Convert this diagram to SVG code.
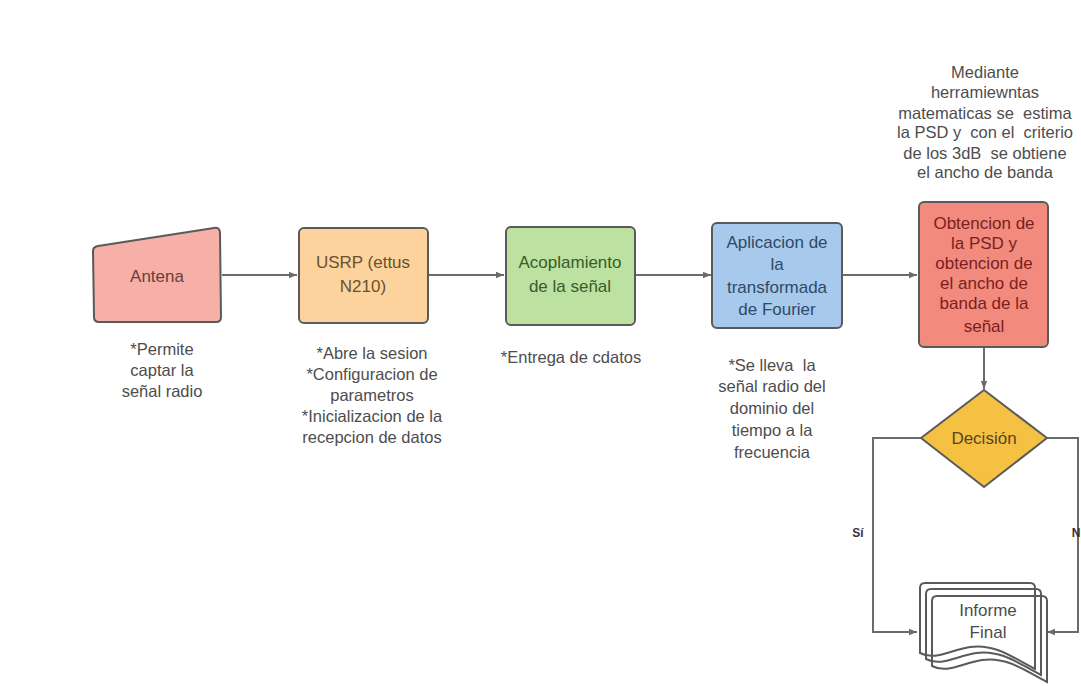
<svg xmlns="http://www.w3.org/2000/svg" width="1081" height="686" viewBox="0 0 1081 686">
<style>
.nt{font-family:"Liberation Sans",Arial,sans-serif;font-size:17px;text-anchor:middle}
.note{font-family:"Liberation Sans",Arial,sans-serif;font-size:16.5px;text-anchor:middle;fill:#4d4d4d;white-space:pre}
.box{stroke:#5a5a5a;stroke-width:2}
.con{fill:none;stroke:#6b6b6b;stroke-width:2}
.lbl{font-family:"Liberation Sans",Arial,sans-serif;font-size:12px;font-weight:bold;fill:#333;text-anchor:middle}
.doc{fill:none;stroke:#5a5a5a;stroke-width:2}
</style>
<defs>
<marker id="ah" viewBox="0 0 10 10" refX="10" refY="5" markerWidth="9" markerHeight="8" markerUnits="userSpaceOnUse" orient="auto"><path d="M0,1 L10,5 L0,9 z" fill="#6b6b6b"/></marker>
<path id="docshape" d="M5,0 H110 Q115,0 115,5 V86 C95,76 75,60 50,64 C30,67 15,78 0,70 V5 Q0,0 5,0 Z"/>
</defs>
<rect width="1081" height="686" fill="#ffffff"/>
<g id="connectors">
<path class="con" d="M222,275 H297" marker-end="url(#ah)"/>
<path class="con" d="M428,275 H504" marker-end="url(#ah)"/>
<path class="con" d="M635,275 H711" marker-end="url(#ah)"/>
<path class="con" d="M842,275 H917" marker-end="url(#ah)"/>
<path class="con" d="M984,347 V389" marker-end="url(#ah)"/>
<path class="con" d="M921,438 H873 V632 H917" marker-end="url(#ah)"/>
<path class="con" d="M1047,438 H1078 V632 H1047" marker-end="url(#ah)"/>
<text class="lbl" x="858" y="537">Sí</text>
<text class="lbl" x="1076" y="537">N</text>
</g>
<g id="antena">
<path class="box" d="M98,246 L214,228 Q220,227 220,233 L221,317 Q221,322 216,322 L99,322 Q94,322 94,317 L93,251 Q93,247 98,246 Z" fill="#f6b0a8"/>
<text class="nt" x="157" y="282" fill="#6a3d3d">Antena</text>
<text class="note" x="162" y="355">*Permite</text>
<text class="note" x="162" y="376">captar la</text>
<text class="note" x="162" y="397">señal radio</text>
</g>
<g id="usrp">
<rect class="box" x="299" y="228" width="129" height="95" rx="5" fill="#fcd39c"/>
<text class="nt" x="363" y="268" fill="#6a5030">USRP (ettus</text>
<text class="nt" x="363" y="292" fill="#6a5030">N210)</text>
<text class="note" x="372" y="359">*Abre la sesion</text>
<text class="note" x="372" y="380">*Configuracion de</text>
<text class="note" x="372" y="401">parametros</text>
<text class="note" x="372" y="422">*Inicializacion de la</text>
<text class="note" x="372" y="443">recepcion de datos</text>
</g>
<g id="acoplamiento">
<rect class="box" x="506" y="227" width="129" height="98" rx="5" fill="#bde1a0"/>
<text class="nt" x="570" y="268" fill="#3a5a2a">Acoplamiento</text>
<text class="nt" x="570" y="292" fill="#3a5a2a">de la señal</text>
<text class="note" x="571" y="363">*Entrega de cdatos</text>
</g>
<g id="fourier">
<rect class="box" x="712" y="223" width="130" height="105" rx="5" fill="#a6c9ec"/>
<text class="nt" x="777" y="248" fill="#2f4a68">Aplicacion de</text>
<text class="nt" x="777" y="270" fill="#2f4a68">la</text>
<text class="nt" x="777" y="293" fill="#2f4a68">transformada</text>
<text class="nt" x="777" y="315" fill="#2f4a68">de Fourier</text>
<text class="note" x="772" y="371">*Se lleva  la</text>
<text class="note" x="772" y="392">señal radio del</text>
<text class="note" x="772" y="414">dominio del</text>
<text class="note" x="772" y="436">tiempo a la</text>
<text class="note" x="772" y="458">frecuencia</text>
</g>
<g id="psd">
<text class="note" x="985" y="78">Mediante</text>
<text class="note" x="985" y="98">herramiewntas</text>
<text class="note" x="985" y="119">matematicas se  estima</text>
<text class="note" x="985" y="138">la PSD y  con el  criterio</text>
<text class="note" x="985" y="159">de los 3dB  se obtiene</text>
<text class="note" x="985" y="178">el ancho de banda</text>
<rect class="box" x="919" y="202" width="129" height="145" rx="5" fill="#f28b7d"/>
<text class="nt" x="984" y="229" fill="#7a2020">Obtencion de</text>
<text class="nt" x="984" y="249" fill="#7a2020">la PSD y</text>
<text class="nt" x="984" y="269" fill="#7a2020">obtencion de</text>
<text class="nt" x="984" y="289" fill="#7a2020">el ancho de</text>
<text class="nt" x="984" y="309" fill="#7a2020">banda de la</text>
<text class="nt" x="984" y="332" fill="#7a2020">señal</text>
</g>
<g id="decision">
<path class="box" d="M984,390 L1047,438 L984,487 L921,438 Z" fill="#f4c143" stroke-linejoin="round"/>
<text class="nt" x="984" y="444" fill="#5a4420">Decisión</text>
</g>
<g id="informe">
<use href="#docshape" class="doc" x="920" y="583"/>
<use href="#docshape" class="doc" x="926" y="589"/>
<use href="#docshape" class="doc" x="932" y="596"/>
<text class="nt" x="988" y="616" fill="#4d4d4d">Informe</text>
<text class="nt" x="988" y="638" fill="#4d4d4d">Final</text>
</g>
</svg>
